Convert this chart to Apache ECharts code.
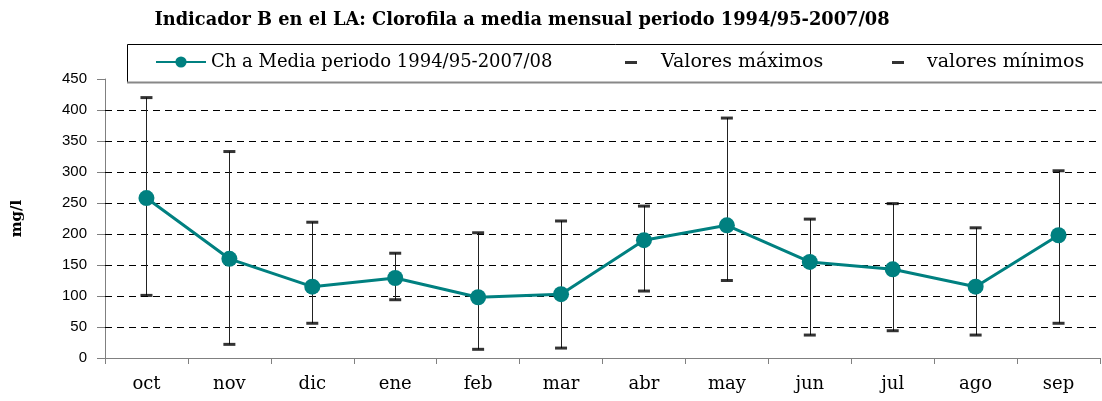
<!DOCTYPE html>
<html><head><meta charset="utf-8">
<script src="https://cdn.jsdelivr.net/npm/echarts@6/dist/echarts.min.js"></script>
<style>html,body{margin:0;padding:0;background:#fff}#c{width:1102px;height:401px}</style>
</head><body><div id="c"></div>
<script>
var categories = ['oct','nov','dic','ene','feb','mar','abr','may','jun','jul','ago','sep'];
var meanValues = [258, 160, 115, 129, 98, 103, 190, 214, 155, 143, 115, 198];
var maxValues  = [420, 333, 219, 169, 202, 221, 245, 387, 224, 249, 210, 302];
var minValues  = [101, 22, 56, 94, 14, 16, 108, 125, 37, 44, 37, 56];
var yTicks = [0, 50, 100, 150, 200, 250, 300, 350, 400, 450];
var gridValues = [50, 100, 150, 200, 250, 300, 350, 400];

var serif = 'DejaVu Serif';
var chart = echarts.init(document.getElementById('c'));
var rangeData = categories.map(function (c, i) { return [i, minValues[i], maxValues[i]]; });

chart.setOption({
  animation: false,
  backgroundColor: '#fff',
  title: {
    text: 'Indicador B en el LA: Clorofila a media mensual periodo 1994/95-2007/08',
    left: 517, textAlign: 'center', top: 6,
    textStyle: { fontFamily: serif, fontWeight: 'bold', fontSize: 17.8, color: '#000' }
  },
  graphic: {
    elements: [{
      type: 'rect', z: 100,
      shape: { x: 127.5, y: 44.5, width: 1000, height: 38 },
      style: { fill: '#fff', stroke: '#000', lineWidth: 1 }
    }, {
      type: 'line', z: 101,
      shape: { x1: 127, y1: 82.5, x2: 1102, y2: 82.5 },
      style: { stroke: '#888', lineWidth: 2 }
    }]
  },
  legend: [{
    z: 200, left: 155, top: 53, itemWidth: 50, itemHeight: 14, padding: 0,
    data: ['Ch a Media periodo 1994/95-2007/08'],
    textStyle: { fontFamily: serif, fontSize: 18, color: '#000' }
  }, {
    z: 200, left: 625, top: 53, itemWidth: 12, itemHeight: 3, padding: 0,
    data: ['Valores máximos'],
    textStyle: { fontFamily: serif, fontSize: 19, color: '#000', padding: [0, 0, 0, 19] }
  }, {
    z: 200, left: 892, top: 53, itemWidth: 12, itemHeight: 3, padding: 0,
    data: ['valores mínimos'],
    textStyle: { fontFamily: serif, fontSize: 19, color: '#000', padding: [0, 0, 0, 18] }
  }],
  grid: { left: 105, right: 2, top: 79, bottom: 43, containLabel: false },
  xAxis: {
    type: 'category', data: categories, boundaryGap: true,
    axisLine: { lineStyle: { color: '#808080', width: 1 } },
    axisTick: { show: true, length: 6, lineStyle: { color: '#808080' } },
    axisLabel: { margin: 17, fontFamily: serif, fontSize: 18, color: '#000' }
  },
  yAxis: {
    type: 'value', min: yTicks[0], max: yTicks[yTicks.length - 1], interval: 50,
    name: 'mg/l', nameLocation: 'middle', nameRotate: 90, nameGap: 80,
    nameTextStyle: { fontFamily: serif, fontWeight: 'bold', fontSize: 15, color: '#000' },
    axisLine: { show: true, lineStyle: { color: '#808080', width: 1 } },
    axisTick: { show: true, length: 8, lineStyle: { color: '#808080' } },
    axisLabel: { margin: 18, fontFamily: 'Liberation Sans', fontSize: 15, color: '#000' },
    splitLine: { show: false }
  },
  series: [{
    type: 'custom', name: 'range', silent: true, z: 3,
    renderItem: function (params, api) {
      var top = api.coord([api.value(0), api.value(2)]);
      var bot = api.coord([api.value(0), api.value(1)]);
      var x = Math.round(top[0]) + 0.5;
      return { type: 'line', shape: { x1: x, y1: top[1], x2: x, y2: bot[1] },
        style: { stroke: '#222', lineWidth: 1 } };
    },
    encode: { x: 0, y: [1, 2] },
    data: rangeData,
    markLine: {
      silent: true, symbol: 'none', z: 1,
      label: { show: false },
      lineStyle: { color: '#000', type: [7, 5], width: 1 },
      data: gridValues.map(function (v) { return { yAxis: v }; })
    }
  }, {
    type: 'scatter', name: 'Valores máximos', z: 4,
    symbol: 'rect', symbolSize: [12, 3],
    itemStyle: { color: '#000' },
    data: maxValues
  }, {
    type: 'scatter', name: 'valores mínimos', z: 4,
    symbol: 'rect', symbolSize: [12, 3],
    itemStyle: { color: '#000' },
    data: minValues
  }, {
    type: 'line', name: 'Ch a Media periodo 1994/95-2007/08', z: 5,
    symbol: 'circle', symbolSize: 16,
    lineStyle: { color: '#008080', width: 3 },
    itemStyle: { color: '#008080' },
    data: meanValues
  }]
});
</script></body></html>
